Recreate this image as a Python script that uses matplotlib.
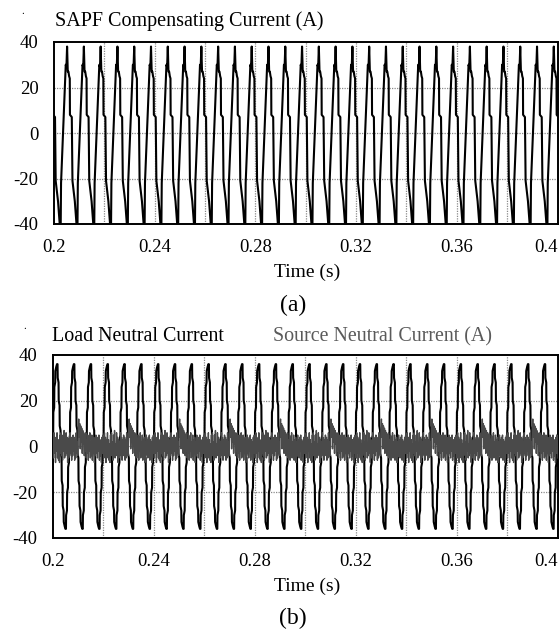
import numpy as np
import matplotlib
matplotlib.use("Agg")
import matplotlib.pyplot as plt

plt.rcParams['font.family'] = ['Liberation Serif', 'DejaVu Serif']

# one 150 Hz period of each trace (phase in periods, value in A)
T = 1.0 / 150
sapf_phase = [0.00, 0.02, 0.28, 0.30, 0.34, 0.38, 0.42, 0.46, 0.50, 0.54,
              0.55, 0.66, 0.70, 0.84, 0.94]
sapf_level = [-40, -22, 27, 30, 29, 38, 27, 27, 25, 24,
              8, 7, -21, -30, -40]
sapf_start = 0.60   # phase at t = 0.2 s

load_phase = [0.00, 0.03, 0.04, 0.09, 0.10, 0.15, 0.16, 0.21, 0.22, 0.27, 0.28,
              0.33, 0.34, 0.39, 0.40, 0.46,
              0.50, 0.53, 0.54, 0.59, 0.60, 0.65, 0.66, 0.71, 0.72, 0.77, 0.78,
              0.83, 0.84, 0.89, 0.90, 0.96]
load_level = [36, 36, 30, 28, 20, 18, 9, 7, -3, -5, -15,
              -17, -26, -28, -33, -35,
              -36, -36, -30, -28, -20, -18, -9, -7, 3, 5, 15,
              17, 26, 28, 33, 35]
load_start = 0.76

# source neutral current: one 50 Hz cycle (0.02 s) of ripple
src_ripple = [2, -5, 6, -3, 4, -7, 3, -2, 6, -5,
              3, -6, 1, -7, 5, -3, 6, -4, 2, -6,
              5, -2, 7, -5, 1, -4, 6, -3, 4, -7,
              3, -5, 2, -4, 6, -3, 4, -6, 3, -4,
              5, -2, 4, -6, 3, -5, 6, -3, 2, -4,
              8, 12, 4, 10, -1, 9, 2, 8, -3, 7,
              1, 6, -4, 5, -2, 6, -5, 3, -3, 5,
              -6, 4, -2, 6, -5, 2, -4, 5, -6, 3,
              -3, 4, -7, 2, -4, 5, -3, 3, -5, 4,
              -2, 5, -6, 3, -4, 2, -7, 4, -3, 5]

x_ticks = [0.2, 0.24, 0.28, 0.32, 0.36, 0.4]
x_labels = ['0.2', '0.24', '0.28', '0.32', '0.36', '0.4']
x_grid = [0.22, 0.24, 0.26, 0.28, 0.30, 0.32, 0.34, 0.36, 0.38]
y_ticks = [-40, -20, 0, 20, 40]
y_labels = ['-40', '-20', '0', '20', '40']
y_grid = [-20, 0, 20]


def periodic(phase, level, start, n=32):
    ph = np.asarray(phase, float)
    lv = np.asarray(level, float)
    t = np.concatenate([0.2 + (k + ph - start) * T for k in range(-1, n)])
    return t, np.tile(lv, n + 1)


W, H = 559, 635
fig = plt.figure(figsize=(W / 100, H / 100), dpi=100)


def px_axes(left, top, right, bottom):
    return fig.add_axes([left / W, 1 - bottom / H, (right - left) / W, (bottom - top) / H])


def style(ax):
    ax.set_xlim(0.2, 0.4)
    ax.set_ylim(-40, 40)
    ax.set_xticks(x_ticks)
    ax.set_xticklabels(x_labels)
    ax.get_xticklabels()[-1].set_horizontalalignment('right')
    ax.set_yticks(y_ticks)
    ax.set_yticklabels(y_labels)
    ax.tick_params(length=0, labelsize=13.5)
    ax.tick_params(axis='y', pad=11)
    ax.tick_params(axis='x', pad=11)
    for v in x_grid:
        ax.axvline(v, color='#8a8a8a', lw=0.9, ls=(0, (1, 1)), zorder=0)
    for v in y_grid:
        ax.axhline(v, color='#8a8a8a', lw=0.9, ls=(0, (1, 1)), zorder=0)
    for s in ax.spines.values():
        s.set_linewidth(1.4)


# (a)
ax1 = px_axes(54, 42, 557.5, 224)
t, y = periodic(sapf_phase, sapf_level, sapf_start)
ax1.plot(t, y, color='black', lw=1.5)
style(ax1)
fig.text(55 / W, 1 - 26 / H, 'SAPF Compensating Current (A)', fontsize=14.5, va='baseline')
fig.text(23 / W, 1 - 14 / H, '.', fontsize=8, ha='center', va='baseline')
fig.text(307 / W, 1 - 272 / H, 'Time (s)', fontsize=14, ha='center', va='center')
fig.text(293 / W, 1 - 305 / H, '(a)', fontsize=17, ha='center', va='center')

# (b)
ax2 = px_axes(53, 355, 557.5, 538)
t, y = periodic(load_phase, load_level, load_start)
ax2.plot(t, y, color='black', lw=1.5, zorder=2)
rip = np.tile(np.asarray(src_ripple, float), 11)
t_rip = 0.2 + np.arange(len(rip)) * (0.02 / len(src_ripple))
ax2.plot(t_rip, rip, color='#4a4a4a', lw=1.0, zorder=3)
style(ax2)
fig.text(52 / W, 1 - 341 / H, 'Load Neutral Current', fontsize=14.4, va='baseline')
fig.text(273 / W, 1 - 341 / H, 'Source Neutral Current (A)', fontsize=14.4,
         va='baseline', color='#5a5a5a')
fig.text(25 / W, 1 - 329 / H, '.', fontsize=8, ha='center', va='baseline')
fig.text(307 / W, 1 - 586 / H, 'Time (s)', fontsize=14, ha='center', va='center')
fig.text(293 / W, 1 - 618 / H, '(b)', fontsize=17, ha='center', va='center')

fig.savefig('out.png', dpi=100)
